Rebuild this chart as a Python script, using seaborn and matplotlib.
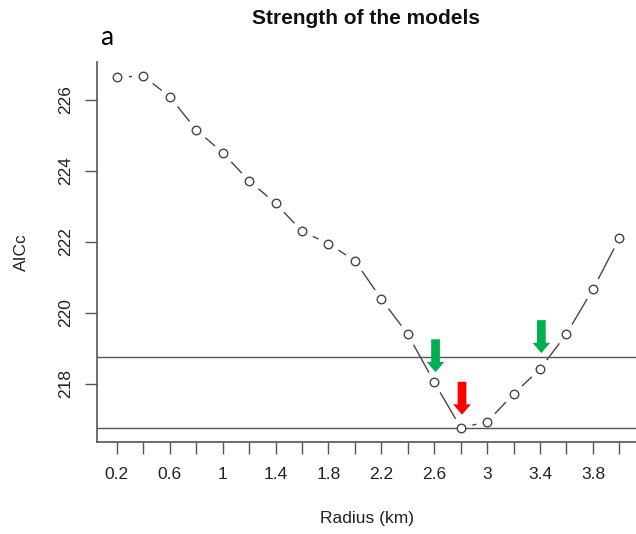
import matplotlib
matplotlib.use("Agg")
import matplotlib.pyplot as plt
from matplotlib.patches import FancyArrow
import numpy as np
import pandas as pd
import seaborn as sns

# Radius of the buffer (km) and the AICc of the model fitted at each radius
radius_labels = ["0.2", "0.4", "0.6", "0.8", "1", "1.2", "1.4", "1.6", "1.8", "2",
                 "2.2", "2.4", "2.6", "2.8", "3", "3.2", "3.4", "3.6", "3.8", "4"]
aicc = [226.63, 226.66, 226.08, 225.15, 224.50, 223.71, 223.08, 222.29, 221.94, 221.46,
        220.38, 219.39, 218.04, 216.76, 216.92, 217.71, 218.41, 219.40, 220.66, 222.09]

# Highlighted radii: best model (red) and the two within 2 AICc units (green)
best_radius = "2.8"
bound_radii = ["2.6", "3.4"]

df = pd.DataFrame({"pos": np.arange(len(radius_labels)), "radius": radius_labels, "aicc": aicc})

sns.set_style("white")
plt.rcParams["font.family"] = ["Liberation Sans", "DejaVu Sans"]

W, H = 636, 534
fig = plt.figure(figsize=(W / 100, H / 100), dpi=100)
left_px, right_px, top_px, bottom_px = 96.7, 639.5, 62.0, 441.7
ax = fig.add_axes([left_px / W, 1 - bottom_px / H,
                   (right_px - left_px) / W, (bottom_px - top_px) / H])

line_col = "#454545"
ymin = min(aicc)
ymax = max(aicc)
pad = 0.04 * (ymax - ymin)

# Line joining the points, with R "type = b" style gaps around each point
sns.lineplot(data=df, x="pos", y="aicc", ax=ax, color=line_col, linewidth=1.0,
             zorder=2, estimator=None, sort=False)
sns.scatterplot(data=df, x="pos", y="aicc", ax=ax, s=270, color="white",
                linewidth=0, zorder=3)

# Reference lines: minimum AICc and minimum + 2
ax.axhline(ymin, color="#555555", linewidth=1.0, zorder=4)
ax.axhline(ymin + 2, color="#555555", linewidth=1.0, zorder=4)

sns.scatterplot(data=df, x="pos", y="aicc", ax=ax, s=38, marker="o",
                facecolor="white", edgecolor=line_col, linewidth=1.0, zorder=5)

ax.set_xlim(-0.76, len(radius_labels) - 1 + 0.76)
ax.set_ylim(ymin - pad, ymax + pad)

# Arrows pointing at the selected radii
def arrow_at(label, offset_px, colour):
    i = radius_labels.index(label)
    x = df["pos"][i] + 0.05
    tip = aicc[i] + offset_px / 35.6
    length = 33 / 35.6
    ax.add_patch(FancyArrow(x, tip + length, 0, -length, width=0.33, head_width=0.67,
                            head_length=0.29, length_includes_head=True,
                            color=colour, linewidth=0, zorder=6))

arrow_at(bound_radii[0], 10, "#00B050")
arrow_at(best_radius, 13, "#FF0000")
arrow_at(bound_radii[1], 16, "#00B050")

# Axes in base-R look
ax.set_xticks(df["pos"])
ax.set_xticklabels([lab if i % 2 == 0 else "" for i, lab in enumerate(radius_labels)])
ax.set_yticks([218, 220, 222, 224, 226])
ax.set_yticklabels(["218", "220", "222", "224", "226"], rotation=90, va="center")
ax.set_xlabel("")
ax.set_ylabel("")
for side in ("top", "right"):
    ax.spines[side].set_visible(False)
for side in ("left", "bottom"):
    ax.spines[side].set_color("#555555")
    ax.spines[side].set_linewidth(1.2)
ax.tick_params(axis="both", direction="out", length=8.5, width=1.0, color="#555555",
               labelsize=12.5, labelcolor="#222222", left=True, bottom=True)
ax.tick_params(axis="y", pad=8.5)
ax.tick_params(axis="x", pad=9.5)

text_col = "#222222"
fig.text(366 / W, 1 - 19 / H, "Strength of the models", ha="center", va="center",
         fontsize=15, fontweight="bold", color="#111111")
fig.text(100 / W, 1 - 45 / H, "a", ha="left", va="baseline", fontsize=19,
         family=["Lato", "DejaVu Sans"], color="#000000")
fig.text(21.7 / W, 1 - 251.9 / H, "AICc", ha="center", va="center", rotation=90,
         fontsize=12.5, color=text_col)
fig.text(367 / W, 1 - 519 / H, "Radius (km)", ha="center", va="center",
         fontsize=12.5, color=text_col)

fig.savefig("out.png", dpi=100)
